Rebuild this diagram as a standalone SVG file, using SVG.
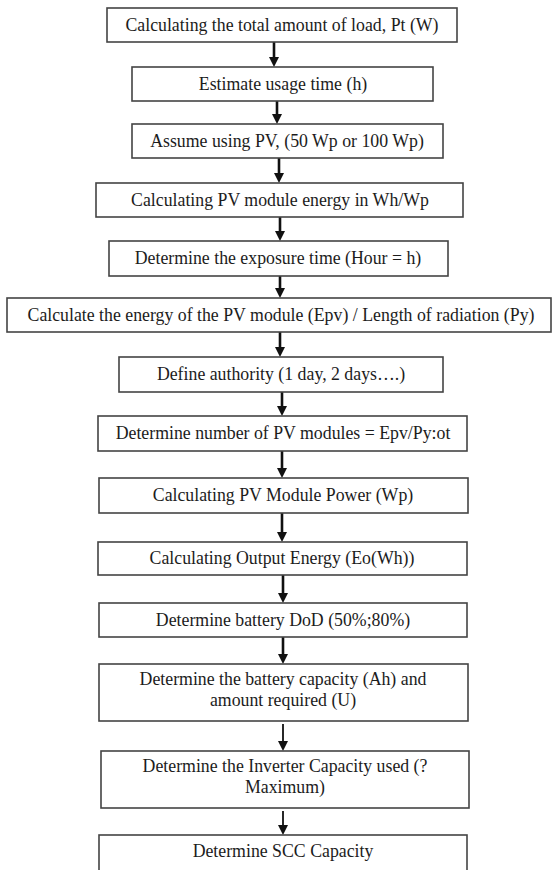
<svg xmlns="http://www.w3.org/2000/svg" width="555" height="870" viewBox="0 0 555 870">
<style>
.box{fill:#fff;stroke:#444;stroke-width:1.6}
.t{font-family:"Liberation Serif","Times New Roman",serif;font-size:17.8px;fill:#1c1c1c;text-anchor:middle}
.c{stroke:#111;fill:none}
.thick{stroke-width:2.6}
.thin{stroke-width:1.8}
</style>
<defs>
<marker id="ah" markerUnits="userSpaceOnUse" markerWidth="11" markerHeight="11" refX="0" refY="5" orient="auto">
<path d="M0,0 L10,5 L0,10 z" fill="#111"/>
</marker>
</defs>
<rect width="555" height="870" fill="#fff"/>
<g id="connectors">
<line class="c thick" x1="274" y1="42" x2="274" y2="57" marker-end="url(#ah)"/>
<line class="c thick" x1="277" y1="101" x2="277" y2="114" marker-end="url(#ah)"/>
<line class="c thick" x1="279" y1="158" x2="279" y2="173" marker-end="url(#ah)"/>
<line class="c thick" x1="280" y1="217" x2="280" y2="231" marker-end="url(#ah)"/>
<line class="c thick" x1="280" y1="276" x2="280" y2="288" marker-end="url(#ah)"/>
<line class="c thick" x1="280" y1="332" x2="280" y2="347" marker-end="url(#ah)"/>
<line class="c thick" x1="282" y1="392" x2="282" y2="406" marker-end="url(#ah)"/>
<line class="c thick" x1="282" y1="451" x2="282" y2="468" marker-end="url(#ah)"/>
<line class="c thick" x1="282" y1="513" x2="282" y2="532" marker-end="url(#ah)"/>
<line class="c thick" x1="283" y1="575" x2="283" y2="593" marker-end="url(#ah)"/>
<line class="c thick" x1="283" y1="637" x2="283" y2="654" marker-end="url(#ah)"/>
<line class="c thin" x1="283" y1="724" x2="283" y2="741" marker-end="url(#ah)"/>
<line class="c thin" x1="283" y1="811" x2="283" y2="825" marker-end="url(#ah)"/>
</g>
<g id="n1"><rect class="box" x="107" y="8" width="350" height="34"/><text class="t" x="282" y="31">Calculating the total amount of load, Pt (W)</text></g>
<g id="n2"><rect class="box" x="132" y="67" width="301" height="34"/><text class="t" x="283" y="90">Estimate usage time (h)</text></g>
<g id="n3"><rect class="box" x="132" y="124" width="311" height="34"/><text class="t" x="287" y="147">Assume using PV, (50 Wp or 100 Wp)</text></g>
<g id="n4"><rect class="box" x="96" y="183" width="367" height="34"/><text class="t" x="280" y="206">Calculating PV module energy in Wh/Wp</text></g>
<g id="n5"><rect class="box" x="109" y="241" width="339" height="35"/><text class="t" x="278" y="264">Determine the exposure time (Hour = h)</text></g>
<g id="n6"><rect class="box" x="7" y="298" width="544" height="34"/><text class="t" x="281" y="321">Calculate the energy of the PV module (Epv) / Length of radiation (Py)</text></g>
<g id="n7"><rect class="box" x="119" y="357" width="324" height="35"/><text class="t" x="281" y="380">Define authority (1 day, 2 days….)</text></g>
<g id="n8"><rect class="box" x="98" y="416" width="369" height="35"/><text class="t" x="283" y="439">Determine number of PV modules = Epv/Py:ot</text></g>
<g id="n9"><rect class="box" x="99" y="478" width="369" height="35"/><text class="t" x="283" y="501">Calculating PV Module Power (Wp)</text></g>
<g id="n10"><rect class="box" x="98" y="542" width="369" height="33"/><text class="t" x="282" y="564">Calculating Output Energy (Eo(Wh))</text></g>
<g id="n11"><rect class="box" x="99" y="603" width="368" height="34"/><text class="t" x="283" y="626">Determine battery DoD (50%;80%)</text></g>
<g id="n12"><rect class="box" x="99" y="664" width="369" height="57"/><text class="t" x="283" y="685">Determine the battery capacity (Ah) and</text><text class="t" x="283" y="706">amount required (U)</text></g>
<g id="n13"><rect class="box" x="101" y="751" width="368" height="57"/><text class="t" x="285" y="772">Determine the Inverter Capacity used (?</text><text class="t" x="285" y="793">Maximum)</text></g>
<g id="n14"><rect class="box" x="99" y="835" width="368" height="45"/><text class="t" x="283" y="857">Determine SCC Capacity</text></g>
</svg>
